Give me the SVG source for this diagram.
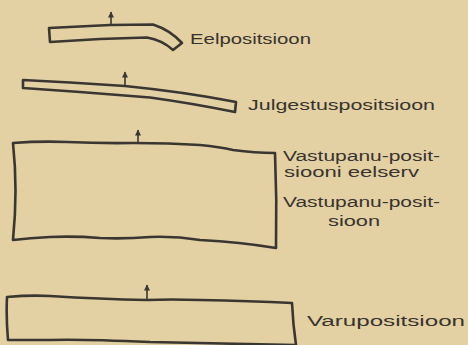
<svg xmlns="http://www.w3.org/2000/svg" width="468" height="345" viewBox="0 0 468 345">
  <style>
    .pos { fill: none; stroke: #3a3631; stroke-width: 2.6; stroke-linejoin: round; stroke-linecap: round; }
    .lbl { font-family: "Liberation Sans", "DejaVu Sans", sans-serif; font-size: 14px; fill: #38332e; }
    .arr { stroke: #3a3631; stroke-width: 1.6; fill: none; marker-end: url(#head); }
  </style>
  <defs>
    <marker id="head" viewBox="0 0 10 10" refX="9" refY="5" markerWidth="8" markerHeight="6" orient="auto" markerUnits="userSpaceOnUse">
      <path d="M0 0 L10 5 L0 10 Z" fill="#3a3631"/>
    </marker>
  </defs>
  <rect width="468" height="345" fill="#e3d1a3"/>

  <g id="eelpositsioon">
    <path class="pos" d="M49 28 L110 25 L153 24.5 Q170 30 182 43 L173 50 Q162 40 147 37.5 L100 39 L50 42 Z"/>
    <text class="lbl" x="190" y="44" textLength="121" lengthAdjust="spacingAndGlyphs">Eelpositsioon</text>
  </g>

  <g id="julgestuspositsioon">
    <path class="pos" d="M23 80 L70 82.5 L125 86 Q185 92 236 102 L235 112 Q190 103 150 97.5 L80 92 L23 88 Z"/>
    <text class="lbl" x="248" y="110" textLength="187" lengthAdjust="spacingAndGlyphs">Julgestuspositsioon</text>
  </g>

  <g id="vastupanupositsioon">
    <path class="pos" d="M13 143 Q40 141 67 142 Q100 143.5 133 143 Q170 143 200 145 Q220 147 233 150 Q255 153 275 153 Q277 200 276 248 Q240 242 200 240 Q175 236 150 237 Q125 239 100 238 Q75 236 50 237 Q30 238 13 240 Q18 190 13 143 Z"/>
    <text class="lbl" x="283" y="161" textLength="157" lengthAdjust="spacingAndGlyphs">Vastupanu-posit-</text>
    <text class="lbl" x="284" y="177" textLength="135" lengthAdjust="spacingAndGlyphs">siooni eelserv</text>
    <text class="lbl" x="283" y="207" textLength="157" lengthAdjust="spacingAndGlyphs">Vastupanu-posit-</text>
    <text class="lbl" x="328" y="226" textLength="52" lengthAdjust="spacingAndGlyphs">sioon</text>
  </g>

  <g id="varupositsioon">
    <path class="pos" d="M7 297 Q30 295 50 296 Q100 299 147 300 Q170 299 200 300 Q250 301 292 303 Q293 325 296 345 L150 342 Q80 339 50 340 L8 340 Q6 318 7 297 Z"/>
    <text class="lbl" x="307" y="326" textLength="158" lengthAdjust="spacingAndGlyphs">Varupositsioon</text>
  </g>

  <g id="connectors">
    <line class="arr" x1="111" y1="25" x2="111" y2="12"/>
    <line class="arr" x1="125" y1="86" x2="125" y2="72"/>
    <line class="arr" x1="138" y1="143" x2="138" y2="130"/>
    <line class="arr" x1="147" y1="300" x2="147" y2="285"/>
  </g>
</svg>
